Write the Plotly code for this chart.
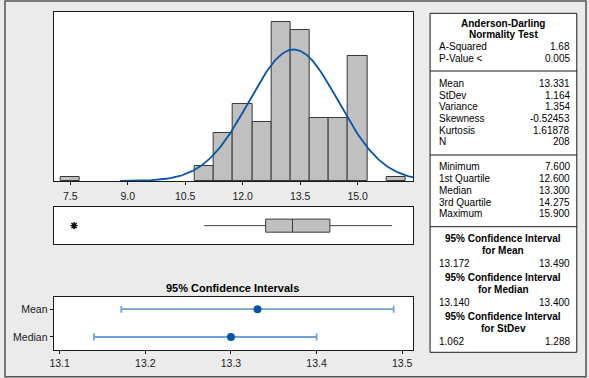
import numpy as np
import plotly.graph_objects as go

# ---------------- data ----------------
bin_centers = [7.5, 11.0, 11.5, 12.0, 12.5, 13.0, 13.5, 14.0, 14.5, 15.0, 16.0]
bin_counts = [1, 4, 13, 21, 16, 43, 41, 17, 17, 34, 1]
bin_width = 0.5

mean_val = 13.331
stdev_val = 1.164
n_val = 208

q1_val = 12.600
median_val = 13.300
q3_val = 14.275
whisker_low = 11.0
whisker_high = 15.900
outliers = [7.6]

ci_names = ["Mean", "Median"]
ci_center = [13.331, 13.300]
ci_lower = [13.172, 13.140]
ci_upper = [13.490, 13.400]

hist_ticks = [7.5, 9.0, 10.5, 12.0, 13.5, 15.0]
ci_ticks = [13.1, 13.2, 13.3, 13.4, 13.5]

ad_labels = ["A-Squared", "P-Value <"]
ad_values = ["1.68", "0.005"]
moment_labels = ["Mean", "StDev", "Variance", "Skewness", "Kurtosis", "N"]
moment_values = ["13.331", "1.164", "1.354", "-0.52453", "1.61878", "208"]
quant_labels = ["Minimum", "1st Quartile", "Median", "3rd Quartile", "Maximum"]
quant_values = ["7.600", "12.600", "13.300", "14.275", "15.900"]
ci_table_titles = ["for Mean", "for Median", "for StDev"]
ci_table_low = ["13.172", "13.140", "1.062"]
ci_table_high = ["13.490", "13.400", "1.288"]

# ---------------- geometry helpers ----------------
W, H = 589, 378
def px(x):
    return x / W
def py(y):
    return 1 - y / H

FONT = "Liberation Sans, Arial, sans-serif"
BLUE = "#0a55a3"
LIGHTBLUE = "#6e9fd6"

fig = go.Figure()

# histogram bars
fig.add_trace(go.Bar(
    x=bin_centers, y=bin_counts, width=bin_width,
    marker=dict(color="#c0c0c0", line=dict(color="#383838", width=1)),
    xaxis="x", yaxis="y", showlegend=False, hoverinfo="skip"))

# fitted normal curve
curve_x = np.linspace(8.8, 16.6, 300)
curve_y = n_val * bin_width * np.exp(-0.5 * ((curve_x - mean_val) / stdev_val) ** 2) / (stdev_val * np.sqrt(2 * np.pi))
fig.add_trace(go.Scatter(
    x=curve_x, y=curve_y, mode="lines", line=dict(color=BLUE, width=1.8),
    xaxis="x", yaxis="y", showlegend=False, hoverinfo="skip", cliponaxis=True))

# boxplot
fig.add_trace(go.Box(
    y=[0], q1=[q1_val], median=[median_val], q3=[q3_val],
    lowerfence=[whisker_low], upperfence=[whisker_high],
    orientation="h", width=0.7, whiskerwidth=0,
    fillcolor="#c0c0c0", line=dict(color="#3a3a3a", width=1),
    xaxis="x2", yaxis="y2", showlegend=False, hoverinfo="skip", boxpoints=False))
fig.add_trace(go.Scatter(
    x=outliers, y=[0] * len(outliers), mode="markers",
    marker=dict(symbol="asterisk-open", size=6, color="black", line=dict(color="black", width=1.4)),
    xaxis="x2", yaxis="y2", showlegend=False, hoverinfo="skip"))

# confidence intervals
fig.add_trace(go.Scatter(
    x=ci_center, y=ci_names, mode="markers",
    marker=dict(color=BLUE, size=8),
    error_x=dict(type="data", symmetric=False,
                 array=[u - c for u, c in zip(ci_upper, ci_center)],
                 arrayminus=[c - l for c, l in zip(ci_center, ci_lower)],
                 color=LIGHTBLUE, thickness=1.8, width=3.5),
    xaxis="x3", yaxis="y3", showlegend=False, hoverinfo="skip"))

xdom = [px(50), px(412)]
axis_common = dict(showline=True, linecolor="#1a1a1a", linewidth=1, mirror=True,
                   showgrid=False, zeroline=False)
tickfont = dict(family=FONT, size=10.5, color="#1a1a1a")

fig.update_layout(
    width=W, height=H,
    margin=dict(l=0, r=0, t=0, b=0),
    paper_bgcolor="#ebebeb", plot_bgcolor="white",
    bargap=0,
    xaxis=dict(domain=xdom, anchor="y", range=[7.068, 16.45], tickvals=hist_ticks,
               tickformat=".1f", ticks="outside", ticklen=3, tickcolor="#1a1a1a",
               ticklabelstandoff=2, tickfont=tickfont, **axis_common),
    yaxis=dict(domain=[py(181), py(12)], anchor="x", range=[0, 45.8],
               showticklabels=False, ticks="", **axis_common),
    xaxis2=dict(domain=xdom, anchor="y2", range=[7.068, 16.45], showticklabels=False,
                ticks="", **axis_common),
    yaxis2=dict(domain=[py(244.3), py(207)], anchor="x2", range=[-1, 1],
                showticklabels=False, ticks="", **axis_common),
    xaxis3=dict(domain=xdom, anchor="y3", range=[13.093, 13.5128], tickvals=ci_ticks,
                tickformat=".1f", ticks="outside", ticklen=3, tickcolor="#1a1a1a",
                tickfont=tickfont, **axis_common),
    yaxis3=dict(domain=[py(350.3), py(297)], anchor="x3", type="category",
                categoryorder="array", categoryarray=["Median", "Mean"],
                range=[-0.48, 1.44], ticks="outside", ticklen=3, tickcolor="#1a1a1a",
                tickfont=tickfont, **axis_common),
)

shapes = []
# outer frame
shapes.append(dict(type="rect", xref="paper", yref="paper", x0=px(1), x1=px(586),
                   y0=py(376.7), y1=py(1), line=dict(color="#555555", width=1.5)))
# table box
tx0, tx1 = 429, 576.7
shapes.append(dict(type="rect", xref="paper", yref="paper", x0=px(tx0), x1=px(tx1),
                   y0=py(352.3), y1=py(13.3), fillcolor="white",
                   line=dict(color="#1a1a1a", width=1), layer="below"))
for sy in [71, 155, 226.7]:
    shapes.append(dict(type="line", xref="paper", yref="paper", x0=px(tx0), x1=px(tx1),
                       y0=py(sy), y1=py(sy), line=dict(color="#1a1a1a", width=1)))

annotations = []
def text(x, y, s, anchor="left", bold=False, size=10):
    annotations.append(dict(
        xref="paper", yref="paper", x=px(x), y=py(y), text=("<b>%s</b>" % s) if bold else s,
        showarrow=False, xanchor=anchor, yanchor="middle",
        font=dict(family=FONT, size=size, color="black"), borderpad=0))

LX, RX, CX = 436.7, 570.7, (tx0 + tx1) / 2
text(CX, 23.8, "Anderson-Darling", "center", True)
text(CX, 35, "Normality Test", "center", True)
for i, (lab, val) in enumerate(zip(ad_labels, ad_values)):
    text(LX, 47 + i * 11.4, lab)
    text(RX, 47 + i * 11.4, val, "right")
for i, (lab, val) in enumerate(zip(moment_labels, moment_values)):
    text(LX, 83.3 + i * 11.7, lab)
    text(RX, 83.3 + i * 11.7, val, "right")
for i, (lab, val) in enumerate(zip(quant_labels, quant_values)):
    text(LX, 166.7 + i * 11.8, lab)
    text(RX, 166.7 + i * 11.8, val, "right")
for i, (ttl, lo, hi) in enumerate(zip(ci_table_titles, ci_table_low, ci_table_high)):
    y0 = 238.4 + i * 39.2
    text(CX, y0, "95% Confidence Interval", "center", True)
    text(CX, y0 + 12, ttl, "center", True)
    text(LX, y0 + 24.6, lo)
    text(RX, y0 + 24.6, hi, "right")

# CI panel title
text(230, 287.7, "95% Confidence Intervals", "center", True, 11)

fig.update_layout(shapes=shapes, annotations=annotations)
fig.write_html("out.html", config={"displayModeBar": False},
               post_script="document.body.style.margin='0';document.body.style.overflow='hidden';")
